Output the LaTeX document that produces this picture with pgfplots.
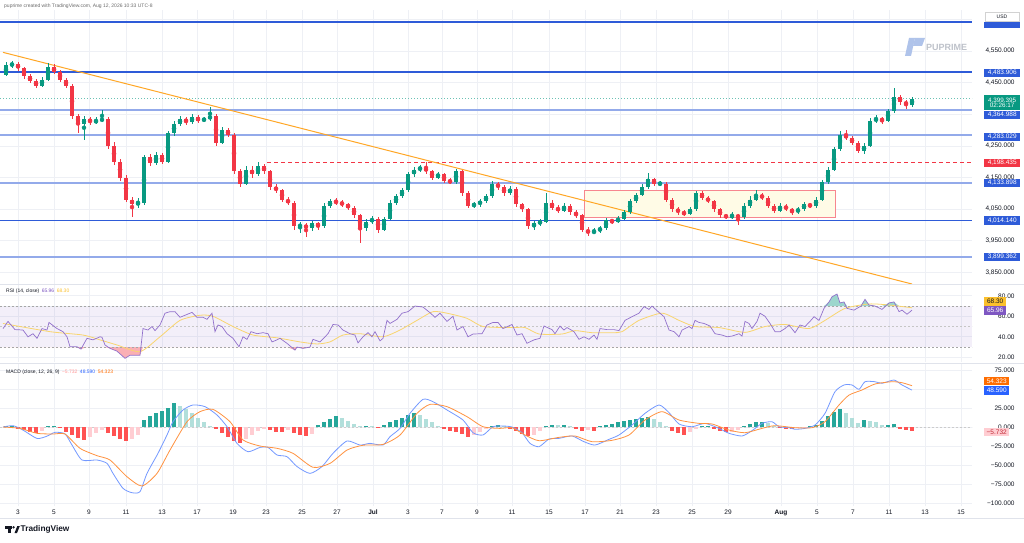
\documentclass[border=0pt]{standalone}
\usepackage{pgfplots}
\usepackage{pgfplotstable}
\pgfplotsset{compat=1.18}
\usepackage{fontspec}
\setmainfont{Liberation Sans}
\newcommand\fs[1]{\fontsize{#1}{#1}\selectfont}
\definecolor{upc}{HTML}{089981}
\definecolor{dnc}{HTML}{F23645}
\definecolor{lineblue}{HTML}{2E5BD8}
\definecolor{lineblueL}{HTML}{93AAEA}
\definecolor{gridc}{HTML}{EEF0F5}
\definecolor{sepc}{HTML}{E0E3EB}
\definecolor{txt}{HTML}{131722}
\definecolor{rsic}{HTML}{7E57C2}
\definecolor{rsima}{HTML}{F9D56E}
\definecolor{macdc}{HTML}{2962FF}
\definecolor{sigc}{HTML}{FF6D00}
\definecolor{hg}{HTML}{26A69A}
\definecolor{hgl}{HTML}{B2DFDB}
\definecolor{hr}{HTML}{FF5252}
\definecolor{hrl}{HTML}{FFCDD2}
\definecolor{trend}{HTML}{FFA726}
\definecolor{rectc}{HTML}{FFFBE6}
\definecolor{pplogo}{HTML}{AFC3EA}
\definecolor{ylw}{HTML}{FBC02D}

\pgfplotstableread{
x o h l c
6 4475 4515 4470 4505
12 4505 4520 4495 4510
18 4510 4515 4488 4495
24 4495 4500 4462 4470
30 4470 4478 4448 4455
36 4455 4462 4432 4440
42 4440 4468 4435 4460
48 4460 4512 4455 4500
54 4500 4508 4478 4485
60 4485 4490 4452 4460
66 4460 4465 4432 4440
72 4440 4445 4335 4345
78 4345 4352 4290 4320
84 4320 4345 4270 4335
90 4335 4342 4315 4325
96 4325 4340 4318 4330
102 4330 4365 4325 4335
108 4335 4340 4240 4250
114 4250 4262 4190 4200
120 4200 4210 4140 4150
126 4150 4158 4072 4080
132 4080 4088 4025 4065
138 4065 4085 4055 4070
144 4070 4222 4062 4215
150 4215 4225 4185 4195
156 4195 4232 4188 4220
162 4220 4228 4192 4200
168 4200 4298 4195 4290
174 4290 4328 4282 4320
180 4320 4345 4312 4335
186 4335 4342 4315 4325
192 4325 4350 4320 4340
198 4340 4348 4322 4330
204 4330 4342 4325 4335
210 4335 4373 4330 4345
216 4345 4350 4250 4260
222 4260 4310 4255 4300
228 4300 4308 4278 4285
234 4285 4290 4160 4170
240 4170 4178 4120 4130
246 4130 4185 4125 4175
252 4175 4185 4150 4160
258 4160 4198 4155 4185
264 4185 4192 4162 4170
270 4170 4175 4110 4120
276 4120 4128 4100 4110
282 4110 4115 4072 4080
288 4080 4088 4062 4070
294 4070 4075 3985 3995
300 3995 4010 3975 4000
306 4000 4005 3962 3990
312 3990 4012 3982 4005
318 4005 4010 3985 3995
324 3995 4068 3990 4060
330 4060 4082 4052 4075
336 4075 4085 4062 4070
342 4070 4078 4058 4065
348 4065 4070 4048 4055
354 4055 4060 4022 4030
360 4030 4035 3943 3990
366 3990 4018 3982 4010
372 4010 4028 4002 4020
378 4020 4025 3975 3985
384 3985 4025 3980 4020
390 4020 4078 4015 4070
396 4070 4098 4062 4090
402 4090 4118 4085 4110
408 4110 4168 4105 4160
414 4160 4182 4152 4175
420 4175 4190 4168 4180
426 4180 4199 4162 4170
432 4170 4175 4142 4150
438 4150 4168 4145 4160
444 4160 4165 4132 4140
450 4140 4148 4128 4135
456 4135 4178 4130 4170
462 4170 4175 4092 4100
468 4100 4108 4052 4060
474 4060 4072 4055 4065
480 4065 4082 4058 4075
486 4075 4098 4068 4090
492 4090 4138 4085 4130
498 4130 4135 4112 4120
504 4120 4125 4092 4100
510 4100 4122 4095 4115
516 4115 4120 4058 4065
522 4065 4070 4042 4050
528 4050 4055 3988 3995
534 3995 4012 3985 4005
540 4005 4018 3998 4010
546 4010 4101 4005 4070
552 4070 4078 4048 4055
558 4055 4062 4038 4045
564 4045 4068 4040 4060
570 4060 4065 4032 4040
576 4040 4046 4022 4030
582 4030 4035 3978 3985
588 3985 3992 3965 3975
594 3975 3990 3970 3980
600 3980 3998 3975 3990
606 3990 4022 3985 4015
612 4015 4020 4002 4010
618 4010 4028 4005 4020
624 4020 4048 4015 4040
630 4040 4082 4035 4075
636 4075 4102 4068 4095
642 4095 4128 4090 4120
648 4120 4164 4115 4145
654 4145 4150 4122 4130
660 4130 4140 4122 4130
666 4130 4135 4072 4080
672 4080 4085 4042 4050
678 4050 4058 4032 4040
684 4040 4046 4028 4035
690 4035 4058 4030 4050
696 4050 4108 4045 4100
702 4100 4106 4078 4085
708 4085 4092 4068 4075
714 4075 4080 4042 4050
720 4050 4055 4022 4030
726 4030 4036 4018 4025
732 4025 4040 4018 4030
738 4030 4035 4000 4025
744 4025 4068 4020 4060
750 4060 4090 4055 4080
756 4080 4110 4075 4095
762 4095 4102 4078 4085
768 4085 4090 4052 4060
774 4060 4065 4038 4045
780 4045 4068 4040 4060
786 4060 4066 4043 4050
792 4050 4055 4032 4040
798 4040 4058 4035 4050
804 4050 4072 4045 4065
810 4065 4070 4052 4060
816 4060 4088 4055 4080
822 4080 4142 4075 4135
828 4135 4182 4128 4175
834 4175 4248 4170 4240
840 4240 4298 4235 4285
846 4285 4300 4268 4275
852 4275 4282 4252 4260
858 4260 4265 4228 4235
864 4235 4258 4225 4250
870 4250 4338 4245 4330
876 4330 4348 4322 4335
882 4335 4342 4320 4330
888 4330 4368 4325 4360
894 4360 4433 4355 4405
900 4405 4412 4380 4390
906 4390 4396 4368 4380
912 4380 4405 4372 4399.395
}\candles

\pgfplotstableread{
x h k
6 1 0
12 1.5 0
18 -2 2
24 -4 2
30 -6 2
36 -7.5 2
42 -5 3
48 1.5 0
54 2 0
60 -1 2
66 -6 2
72 -11 2
78 -15 2
84 -17 2
90 -13 3
96 -8 3
102 -4 3
108 -8 2
114 -12 2
120 -16 2
126 -19 2
132 -16 3
138 -11 3
144 9 0
150 14 0
156 18 0
162 21 0
168 25 0
174 31 0
180 28 1
186 24 1
192 18 1
198 12 1
204 6 1
210 2 1
216 -3 2
222 -8 2
228 -13 2
234 -18 2
240 -21 2
246 -16 3
252 -10 3
258 -5 3
264 -2 3
270 -4 2
276 -6 2
282 -7 2
288 -4 3
294 -8 2
300 -11 2
306 -12 2
312 -9 3
318 3 0
324 7 0
330 11 0
336 15 0
342 12 1
348 8 1
354 4 1
360 1 1
366 2 0
372 1.5 1
378 -1 2
384 3 0
390 7 0
396 9 0
402 12 0
408 16 0
414 19 0
420 16 1
426 11 1
432 6 1
438 2 1
444 -3 2
450 -5 2
456 -6 2
462 -9 2
468 -13 2
474 -11 3
480 -6 3
486 -2 3
492 2 0
498 3 0
504 1 1
510 -2 2
516 -5 2
522 -9 2
528 -12 2
534 -10 3
540 -5 3
546 2 0
552 3 0
558 2.5 1
564 3 0
570 2 1
576 -3 2
582 -5 2
588 -4 3
594 -5 2
600 1 0
606 3 0
612 4 0
618 6 0
624 8 0
630 9 0
636 11 0
642 12.5 0
648 13 0
654 10 1
660 6 1
666 2 1
672 -5 2
678 -8 2
684 -10 2
690 -6 3
696 -3 3
702 1.5 0
708 2 0
714 -2 2
720 -5 2
726 -7 2
732 -6 3
738 -4 3
744 2 0
750 4 0
756 6 0
762 7 0
768 5 1
774 2 1
780 -1 2
786 -2 2
792 -2 2
798 -1.5 3
804 -1 3
810 1 0
816 3 0
822 8 0
828 14 0
834 20 0
840 24 0
846 18 1
852 12 1
858 5 1
864 9 0
870 8 1
876 6 1
882 3 1
888 3 0
894 3.5 0
900 -2 2
906 -4 2
912 -5.732 2
}\hist

\pgfplotstableread{
x r
3 48
8 55
15 47
23 46.6
28 40
33 43
37 38.5
42 48
47 46.6
49 54
57 48
63 45
67 40
70 30.3
77 30.3
81 28
87 38.5
93 37
100 40
102 39.5
105 32
110 28.7
117 26
125 19
130 22
140 22
143 48
148 46.6
152 50
155 46
160 51.5
165 63
170 64.5
175 64.5
180 59
185 61
192 63.8
197 59
203 59
207 57
212 63
215 45
218 51.5
222 50
227 43
233 38.5
239 30.3
243 40
247 37.5
251 45
257 43
263 44
268 43
272 35
277 37
280 38.5
287 33.6
295 27
297 30
303 28.7
310 30
313 37.5
320 35
328 43
333 52
338 51.5
343 46.6
350 43
355 41.7
358 34
363 40
368 44
372 40
375 45
380 36
383 38.5
387 56
390 53
397 57
402 63
408 64.5
415 70
423 69
430 63.5
435 59
440 63
447 55
453 60
457 46.6
463 50
468 40
473 42.7
482 43
487 51.5
493 54
498 54
503 48
512 52
517 41.7
522 43
527 33.6
534 37
540 38.5
544 50.5
552 47
555 43
560 50.5
564 46.6
567 49
574 45
579 37.5
584 40
589 37.5
594 41.7
597 37.5
600 48
607 47
614 47
619 46
625 56
632 59.6
639 63
644 69.4
649 66.7
652 70
657 65.5
664 59.6
669 46.6
674 45
679 40
682 46.6
689 50
692 48
695 56
699 54
704 53
710 50.5
715 43
722 41.7
727 40
732 40.7
739 43
742 40.7
745 55
749 53
752 48
757 55
760 63
765 60
770 53
775 45
780 45
785 48
789 51.5
795 44
800 51.5
805 50
810 55
814 59.6
819 56
824 67.7
829 74
832 79
837 81.7
840 73
844 74
847 67.7
854 66
861 70
865 76.5
869 71
875 70
882 66.7
889 73
894 74
899 64.5
902 66
907 62
912 65.96
}\rsitab

\pgfplotsset{panel/.style={
  scale only axis, width=972pt, xmin=0, xmax=972,
  axis line style={draw=none}, tick style={draw=none},
  xmajorgrids, ymajorgrids, grid style={gridc, line width=0.7pt},
  xtick={18,54,89,126,162,197,233,266,302,337,373,408,442,477,512,549,585,620,656,692,728,781,817,853,889,925,961},
  xticklabels={},
  yticklabel pos=right,
  yticklabel style={font=\fs{6.5}, text=txt, anchor=east, xshift=46pt},
  xticklabel style={font=\fs{6.5}, text=txt},
  unbounded coords=discard,
},
candle/.style={only marks, mark=none, error bars/.cd, y dir=both, y explicit, error mark=none}}

\begin{document}
\begin{tikzpicture}
\useasboundingbox (0,0) rectangle (1024pt,542pt);
\fill[white] (0,0) rectangle (1024pt,542pt);

% ---------------- price panel ----------------
\begin{axis}[panel, at={(0pt,258pt)}, anchor=south west, height=274pt,
  ymin=3813, ymax=4680,
  ytick={3850,3950,4050,4150,4250,4350,4450,4550,4650},
  yticklabels={{3,850.000},{3,950.000},{4,050.000},{4,150.000},{4,250.000},{},{4,450.000},{4,550.000},{}}]
\addplot[draw=dnc!60, line width=0.9pt, fill=rectc] coordinates {(584,4110.5) (835,4110.5) (835,4025) (584,4025)} -- cycle;
\addplot[lineblue, line width=1.1pt] coordinates {(0,4642.1) (972,4642.1)};
\addplot[lineblue, line width=1.1pt] coordinates {(0,4483.906) (972,4483.906)};
\addplot[lineblueL, line width=2pt] coordinates {(0,4364.988) (972,4364.988)};
\addplot[lineblueL, line width=2pt] coordinates {(0,4283.029) (972,4283.029)};
\addplot[lineblueL, line width=2pt] coordinates {(0,4133.898) (972,4133.898)};
\addplot[lineblue, line width=1.1pt] coordinates {(0,4014.140) (972,4014.140)};
\addplot[lineblueL, line width=2pt] coordinates {(0,3899.362) (972,3899.362)};
\addplot[dnc, line width=0.9pt, dash pattern=on 4pt off 3pt] coordinates {(267,4198.435) (972,4198.435)};
\addplot[upc!60, line width=0.6pt, dash pattern=on 1pt off 2pt] coordinates {(0,4399.395) (972,4399.395)};
\addplot[trend, line width=1pt] coordinates {(3,4546) (912,3813)};
% wicks
\addplot[color=upc, candle, error bar style={color=upc, line width=0.9pt}]
  table[x expr={\thisrow{c}>=\thisrow{o} ? \thisrow{x} : nan}, y expr={(\thisrow{h}+\thisrow{l})/2}, y error expr={(\thisrow{h}-\thisrow{l})/2}] {\candles};
\addplot[color=dnc, candle, error bar style={color=dnc, line width=0.9pt}]
  table[x expr={\thisrow{c}<\thisrow{o} ? \thisrow{x} : nan}, y expr={(\thisrow{h}+\thisrow{l})/2}, y error expr={(\thisrow{h}-\thisrow{l})/2}] {\candles};
% bodies
\addplot[color=upc, candle, error bar style={color=upc, line width=3.4pt}]
  table[x expr={\thisrow{c}>=\thisrow{o} ? \thisrow{x} : nan}, y expr={(\thisrow{o}+\thisrow{c})/2}, y error expr={abs(\thisrow{c}-\thisrow{o})/2}] {\candles};
\addplot[color=dnc, candle, error bar style={color=dnc, line width=3.4pt}]
  table[x expr={\thisrow{c}<\thisrow{o} ? \thisrow{x} : nan}, y expr={(\thisrow{o}+\thisrow{c})/2}, y error expr={abs(\thisrow{c}-\thisrow{o})/2}] {\candles};
\end{axis}

% ---------------- RSI panel ----------------
\begin{axis}[panel, at={(0pt,180pt)}, anchor=south west, height=77pt,
  ymin=15.4, ymax=90.5, ytick={20,40,60,80}, yticklabels={20.00,40.00,60.00,80.00}]
\addplot[draw=none, fill=rsic, fill opacity=0.09] coordinates {(0,30) (972,30) (972,70) (0,70)} -- cycle;
\addplot[draw=none, fill=upc!40] table[x=x, y expr={max(\thisrow{r},70)}] {\rsitab} -- (912,70) -- (3,70) -- cycle;
\addplot[draw=none, fill=dnc!40] table[x=x, y expr={min(\thisrow{r},30)}] {\rsitab} -- (912,30) -- (3,30) -- cycle;
\addplot[gray!70, line width=0.6pt, dash pattern=on 2pt off 2pt] coordinates {(0,70) (972,70)};
\addplot[gray!45, line width=0.6pt, dash pattern=on 2pt off 2pt] coordinates {(0,50) (972,50)};
\addplot[gray!70, line width=0.6pt, dash pattern=on 2pt off 2pt] coordinates {(0,30) (972,30)};
\addplot[rsima, line width=0.8pt, smooth, tension=0.4] coordinates {(3,53)(50,45)(83,41.7)(100,37)(117,32)(140,25.5)(160,40)(180,56)(200,61)(213,60)(233,50)(253,41.7)(277,39)(300,35)(317,33)(330,35)(343,41.7)(360,43)(383,40)(400,46.6)(417,56)(433,64.5)(447,63)(467,58)(483,50)(512,49)(525,49)(539,42.7)(562,42.7)(575,46)(592,44)(612,44)(622,45)(639,56)(662,63)(679,56)(695,50)(719,49)(745,44.3)(765,50)(785,52)(809,48)(825,56)(845,67.7)(869,72)(889,71)(912,68.3)};
\addplot[rsic!85, line width=0.7pt] table[x=x, y=r] {\rsitab};
\end{axis}

% ---------------- MACD panel ----------------
\begin{axis}[panel, at={(0pt,36pt)}, anchor=south west, height=142pt,
  ymin=-103.9, ymax=82.9, ytick={-100,-75,-50,-25,0,25,50,75},
  yticklabels={−100.000,−75.000,−50.000,−25.000,0.000,25.000,{},75.000},
  xticklabels={3,5,9,11,13,17,19,23,25,27,\textbf{Jul},3,7,9,11,15,17,21,23,25,29,\textbf{Aug},5,7,11,13,15}]
\addplot[gray!40, line width=0.6pt, dash pattern=on 2pt off 2pt] coordinates {(0,0) (972,0)};
\addplot[ycomb, draw=hg, line width=4.4pt] table[x expr={\thisrow{k}==0 ? \thisrow{x} : nan}, y=h] {\hist};
\addplot[ycomb, draw=hgl, line width=4.4pt] table[x expr={\thisrow{k}==1 ? \thisrow{x} : nan}, y=h] {\hist};
\addplot[ycomb, draw=hr, line width=4.4pt] table[x expr={\thisrow{k}==2 ? \thisrow{x} : nan}, y=h] {\hist};
\addplot[ycomb, draw=hrl, line width=4.4pt] table[x expr={\thisrow{k}==3 ? \thisrow{x} : nan}, y=h] {\hist};
\addplot[macdc!65, line width=0.8pt, smooth, tension=0.4] coordinates {(3,0)(13,1.8)(23,-4)(37,-15)(47,-12)(55,-7)(65,-9)(72,-23.7)(82,-43.4)(97,-43.4)(107,-47.8)(113,-61)(123,-80.7)(132,-86.4)(140,-85)(147,-61)(158,-34.6)(167,-10.5)(173,7)(183,22.4)(193,29)(205,26.8)(217,15.8)(227,0.4)(237,-21.5)(248,-32.5)(260,-26.8)(268,-26.8)(277,-36.8)(287,-39)(297,-52)(310,-61)(322,-52)(333,-34.6)(347,-18.4)(360,-23.7)(370,-21.5)(383,-23.7)(390,-12.7)(400,-1.8)(410,18)(423,36.4)(433,33.3)(447,22.4)(463,9.2)(473,-7.5)(483,-10.5)(493,0.4)(503,1.3)(512,0)(522,-7.5)(530,-21.5)(539,-25.9)(549,-15.8)(559,-14.9)(572,-11.8)(584,-19.3)(595,-23.7)(609,-16.2)(619,-10.5)(632,2.6)(645,18)(659,29)(669,18.9)(679,4)(692,0.4)(705,4.8)(719,-1.8)(729,-8.3)(742,-11.8)(752,-4.8)(762,4.8)(772,7)(779,0.4)(789,-0.9)(795,-3)(805,-1.8)(815,2.6)(825,18)(835,46.5)(844,55.3)(852,55.3)(859,49.6)(865,59.6)(875,59.6)(882,57.5)(894,61.8)(902,55.3)(912,48.59)};
\addplot[sigc!75, line width=0.8pt, smooth, tension=0.4] coordinates {(3,0)(20,-1.8)(37,-8.3)(53,-9.2)(65,-9.2)(80,-28)(97,-37.7)(110,-43.4)(127,-65.4)(142,-77.6)(157,-61)(170,-30.3)(187,7)(200,20.2)(213,23.2)(230,7)(243,-17)(260,-25)(277,-28)(293,-34.6)(313,-53)(330,-47.8)(347,-30.3)(363,-24)(383,-22.8)(400,-10.5)(417,18)(430,29.8)(447,26.8)(467,13.6)(483,0.4)(500,-1.8)(512,-0.9)(525,-10.5)(539,-18)(559,-13.6)(575,-11.8)(592,-19.3)(612,-17.5)(629,-10.5)(645,9.2)(662,20.2)(679,9.2)(699,4.8)(712,4)(729,-4)(745,-7.5)(762,-1.8)(775,1.8)(795,-0.9)(812,-0.9)(825,7)(839,29)(849,42)(862,48.7)(875,56.6)(892,59.6)(902,58.3)(912,54.32)};
\end{axis}

% ---------------- separators ----------------
\draw[sepc, line width=0.7pt] (0,257.5pt) -- (1024pt,257.5pt);
\draw[sepc, line width=0.7pt] (0,179pt) -- (1024pt,179pt);
\draw[sepc, line width=0.7pt] (0,24pt) -- (1024pt,24pt);

% ---------------- price labels ----------------
\tikzset{pl/.style={inner sep=0pt, minimum width=36pt, minimum height=8.5pt, anchor=west, font=\fs{6.5}, text=white}}
\fill[lineblue] (984pt,514pt) rectangle (1020pt,520pt);
\node[draw=gray!35, fill=white, inner sep=0pt, minimum width=34pt, minimum height=9pt, font=\fs{5}, text=txt] at (1002pt,525pt) {USD};
\node[pl, fill=lineblue] at (984pt,469pt) {4,483.906};
\node[pl, fill=upc, minimum height=15pt, align=center, font=\fs{6.3}] at (984pt,439.5pt) {4,399.395\\[-1.2pt]02:26:17};
\node[pl, fill=lineblue] at (984pt,427pt) {4,364.988};
\node[pl, fill=lineblue] at (984pt,405pt) {4,283.029};
\node[pl, fill=dnc] at (984pt,379pt) {4,198.435};
\node[pl, fill=lineblue] at (984pt,359pt) {4,133.898};
\node[pl, fill=lineblue] at (984pt,321.5pt) {4,014.140};
\node[pl, fill=lineblue] at (984pt,285pt) {3,899.362};
% RSI labels
\node[pl, fill=ylw, text=txt, minimum width=22pt] at (984pt,240.5pt) {68.30};
\node[pl, fill=rsic, minimum width=22pt] at (984pt,231.5pt) {65.96};
% MACD labels
\node[pl, fill=sigc, minimum width=25pt] at (984pt,161pt) {54.323};
\node[pl, fill=macdc, minimum width=25pt] at (984pt,151.5pt) {48.590};
\node[pl, fill=hrl, text=dnc!80!black, minimum width=25pt] at (984pt,110pt) {−5.732};

% ---------------- headers ----------------
\node[anchor=west, inner sep=0pt, font=\fs{5}, text=gray!85!black] at (4pt,536pt) {puprime created with TradingView.com, Aug 12, 2026 10:33 UTC-8};
\node[anchor=west, inner sep=0pt, font=\fs{5}, text=txt] at (6pt,251pt) {RSI (14, close)\enspace\textcolor{rsic}{65.96}\enspace\textcolor{ylw}{68.30}};
\node[anchor=west, inner sep=0pt, font=\fs{5}, text=txt] at (6pt,170pt) {MACD (close, 12, 26, 9)\enspace\textcolor{hr!60}{−5.732}\enspace\textcolor{macdc}{48.590}\enspace\textcolor{sigc}{54.323}};

% watermark
\fill[pplogo] (905pt,486pt) -- (911pt,486pt) -- (915pt,504pt) -- (909pt,504pt) -- cycle;
\fill[pplogo] (913pt,496pt) -- (922pt,496pt) -- (925pt,504pt) -- (915pt,504pt) -- cycle;
\node[anchor=west, inner sep=0pt, font=\fs{9}\bfseries, text={rgb,255:red,190;green,194;blue,202}] at (926pt,495pt) {PUPRIME};

% TradingView logo
\fill[txt] (5pt,13.5pt) rectangle (12pt,16pt);
\fill[txt] (8pt,9pt) rectangle (10.6pt,16pt);
\fill[txt] (13.6pt,14.7pt) circle (1.3pt);
\fill[txt] (14.5pt,9pt) -- (17pt,9pt) -- (19.8pt,16pt) -- (17.3pt,16pt) -- cycle;
\node[anchor=west, inner sep=0pt, font=\fs{8.3}\bfseries, text=txt] at (20.5pt,12.5pt) {TradingView};
\end{tikzpicture}
\end{document}
